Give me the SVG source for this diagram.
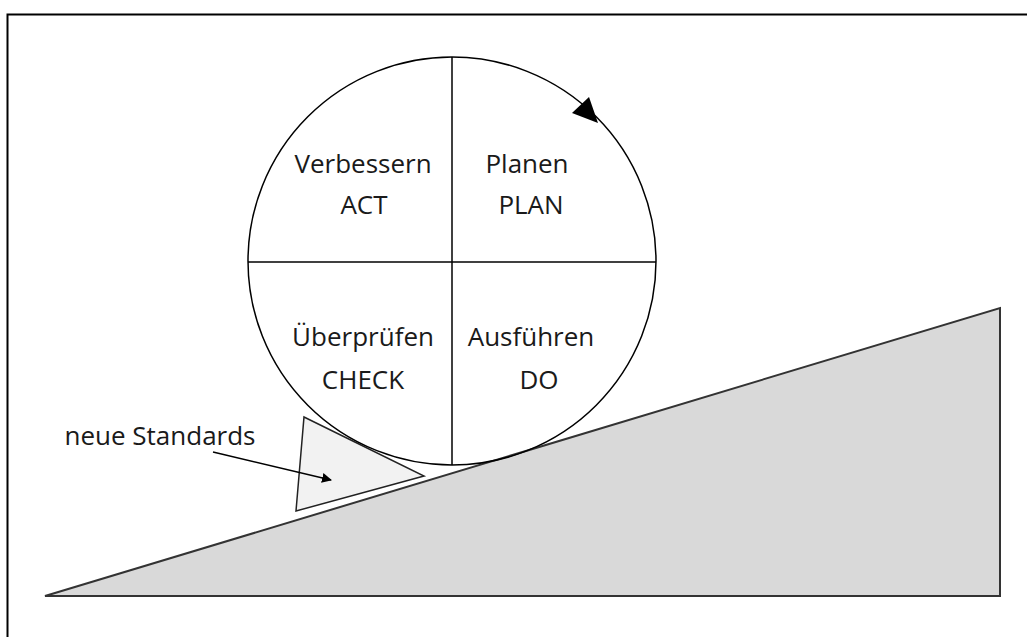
<svg xmlns="http://www.w3.org/2000/svg" width="1027" height="637" viewBox="0 0 1027 637">
<style>
.t{font-family:"Open Sans","Liberation Sans",sans-serif;font-size:26px;fill:#1a1a1a;text-anchor:middle}
.ln{stroke:#000;stroke-width:1.5;fill:none}
</style>
<defs>
<marker id="ah" markerWidth="10" markerHeight="10" refX="9" refY="5" orient="auto" markerUnits="userSpaceOnUse" viewBox="0 0 10 10">
<path d="M0,0 L10,5 L0,10 z" fill="#000"/>
</marker>
</defs>
<rect width="1027" height="637" fill="#fff"/>
<path d="M7.5,637 V14.5 H1027" stroke="#000" stroke-width="2" fill="none"/>
<g id="ramp">
<polygon points="45,596 1000,308 1000,596" fill="#d9d9d9" stroke="#333" stroke-width="2"/>
</g>
<g id="wedge">
<polygon points="304,417 424,476 296,511" fill="#f2f2f2" stroke="#222" stroke-width="1.5"/>
</g>
<g id="wheel">
<circle cx="452" cy="261" r="204" class="ln"/>
<line x1="452" y1="57" x2="452" y2="465" class="ln"/>
<line x1="248" y1="262" x2="656" y2="262" class="ln"/>
<polygon points="598,123 572,113 589,97" fill="#000"/>
</g>
<g id="act"><text class="t" x="363" y="173">Verbessern</text><text class="t" x="364" y="214">ACT</text></g>
<g id="plan"><text class="t" x="527" y="173">Planen</text><text class="t" x="531" y="214">PLAN</text></g>
<g id="check"><text class="t" x="363" y="346">Überprüfen</text><text class="t" x="363" y="389">CHECK</text></g>
<g id="do"><text class="t" x="531" y="346">Ausführen</text><text class="t" x="539" y="389">DO</text></g>
<g id="label"><text class="t" x="160" y="445">neue Standards</text></g>
<g id="connectors">
<line x1="213" y1="452" x2="331" y2="480" stroke="#000" stroke-width="1.5" marker-end="url(#ah)"/>
</g>
</svg>
